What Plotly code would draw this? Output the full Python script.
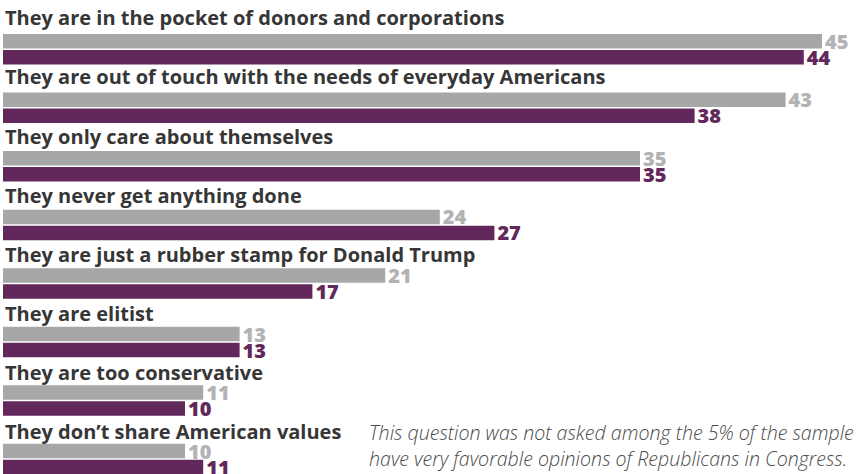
import plotly.graph_objects as go

# Reasons given for an unfavourable view of Republicans in Congress (%)
statements = [
    "They are in the pocket of donors and corporations",
    "They are out of touch with the needs of everyday Americans",
    "They only care about themselves",
    "They never get anything done",
    "They are just a rubber stamp for Donald Trump",
    "They are elitist",
    "They are too conservative",
    "They don\u2019t share American values",
]
gray_values = [45, 43, 35, 24, 21, 13, 11, 10]
purple_values = [44, 38, 35, 27, 17, 13, 10, 11]
note_lines = [
    "This question was not asked among the 5% of the sample",
    "have very favorable opinions of Republicans in Congress.",
]

GRAY = "#a7a7a7"
GRAY_TEXT = "#b3b3b3"
PURPLE = "#62285b"
LABEL = "#363636"

W, H = 857, 474
STEP = 58.55        # vertical distance between bar groups (px)
TOP = 34            # top of the first gray bar (px)
BAR_H = 14.5
PX_PER_UNIT = 18.2
X0 = 3
LABEL_STEP = 59.0   # statement labels sit on a slightly wider pitch
LABEL_BASE = 26     # baseline of the first statement label (px)

n = len(statements)
gray_y = [TOP + BAR_H / 2 + i * STEP for i in range(n)]
purple_y = [TOP + 16 + BAR_H / 2 + i * STEP for i in range(n)]

value_font = dict(family="Open Sans", size=20, weight=800)

fig = go.Figure()
fig.add_trace(go.Bar(
    x=gray_values, y=gray_y, orientation="h", width=BAR_H,
    marker=dict(color=GRAY, line=dict(width=0)),
    text=gray_values, textposition="outside", constraintext="none",
    textfont=dict(color=GRAY_TEXT, **value_font),
    cliponaxis=False, hoverinfo="skip",
))
fig.add_trace(go.Bar(
    x=purple_values, y=purple_y, orientation="h", width=BAR_H,
    marker=dict(color=PURPLE, line=dict(width=0)),
    text=purple_values, textposition="outside", constraintext="none",
    textfont=dict(color=PURPLE, **value_font),
    cliponaxis=False, hoverinfo="skip",
))

annotations = []
for i, s in enumerate(statements):
    annotations.append(dict(
        x=0, xref="x", y=LABEL_BASE + i * LABEL_STEP + 7.5, yref="y",
        text=s, showarrow=False, xanchor="left", yanchor="bottom",
        font=dict(family="Open Sans", size=20, color=LABEL, weight="bold"),
    ))
for j, line in enumerate(note_lines):
    annotations.append(dict(
        x=367 / W, xref="paper", y=432 + j * 26, yref="y",
        text="<i>" + line + "</i>", showarrow=False,
        xanchor="left", yanchor="middle",
        font=dict(family="Open Sans", size=19.6, color="#4a4a4a", weight=300),
    ))

fig.update_layout(
    width=W, height=H,
    margin=dict(l=0, r=0, t=0, b=0),
    paper_bgcolor="white", plot_bgcolor="white",
    barmode="overlay", showlegend=False,
    xaxis=dict(range=[-X0 / PX_PER_UNIT, (W - X0) / PX_PER_UNIT],
               visible=False, fixedrange=True),
    yaxis=dict(range=[H, 0], visible=False, fixedrange=True),
    annotations=annotations,
)

fig.write_html("out.html")
